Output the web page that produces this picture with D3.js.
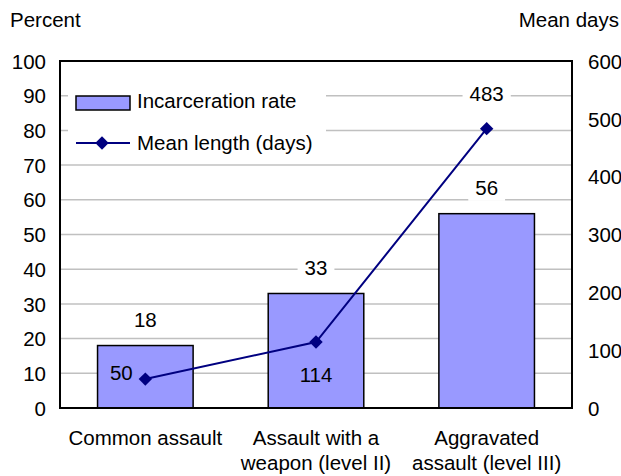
<!DOCTYPE html>
<html><head><meta charset="utf-8">
<script src="https://cdn.jsdelivr.net/npm/d3@7/dist/d3.min.js"></script>
<style>body{margin:0;background:#fff}svg{display:block;font-family:"Liberation Sans",Arial,sans-serif}</style>
</head><body>
<script>
const categories = [["Common assault"], ["Assault with a", "weapon (level II)"], ["Aggravated", "assault (level III)"]];
const incarcerationRate = [18, 33, 56];
const meanLength = [50, 114, 483];
const leftTicks = [0,10,20,30,40,50,60,70,80,90,100];
const rightTicks = [0,100,200,300,400,500,600];
const seriesNames = ["Incarceration rate", "Mean length (days)"];

const W = 621, H = 476;
const m = {l:60, r:49, t:61, b:68};
const svg = d3.select("body").append("svg").attr("width", W).attr("height", H);
const x = d3.scaleBand().domain(d3.range(categories.length)).range([m.l, W - m.r]).paddingInner(0.44).paddingOuter(0.22);
const yL = d3.scaleLinear().domain([0,100]).range([H - m.b, m.t]);
const yR = d3.scaleLinear().domain([0,600]).range([H - m.b, m.t]);
const fs = 20.5;
const ff = "Liberation Sans, Arial, sans-serif";

// gridlines
svg.append("g").selectAll("line").data(leftTicks.slice(1, -1)).join("line")
  .attr("x1", m.l).attr("x2", W - m.r).attr("y1", d => yL(d)).attr("y2", d => yL(d))
  .attr("stroke", "#c0c0c0").attr("stroke-width", 1.5);

// left axis
const axL = svg.append("g").attr("transform", `translate(${m.l},0)`)
  .call(d3.axisLeft(yL).tickValues(leftTicks).tickSize(0).tickPadding(14));
axL.select(".domain").remove();
axL.selectAll("text").attr("font-size", fs).attr("fill", "#000").attr("font-family", ff).attr("dy", "0.35em");

// right axis
const axR = svg.append("g").attr("transform", `translate(${W - m.r},0)`)
  .call(d3.axisRight(yR).tickValues(rightTicks).tickSize(0).tickPadding(16));
axR.select(".domain").remove();
axR.selectAll("text").attr("font-size", fs).attr("fill", "#000").attr("font-family", ff).attr("dy", "0.35em");

// bars
svg.append("g").selectAll("rect").data(incarcerationRate).join("rect")
  .attr("x", (d,i) => x(i)).attr("width", x.bandwidth())
  .attr("y", d => yL(d)).attr("height", d => yL(0) - yL(d))
  .attr("fill", "#9999ff").attr("stroke", "#000").attr("stroke-width", 1.5);

function addLabel(g, tx, ty, t, bg) {
  const grp = g.append("g");
  const bgRect = grp.append("rect").attr("fill", bg ? "#fff" : "none");
  const txt = grp.append("text").attr("x", tx).attr("y", ty).attr("dy", "0.35em")
    .attr("text-anchor", "middle").attr("font-size", fs).text(t);
  if (bg) {
    const b = txt.node().getBBox();
    bgRect.attr("x", b.x - 7).attr("y", b.y - 2).attr("width", b.width + 14).attr("height", b.height + 4);
  }
}

// bar labels
const bl = svg.append("g");
incarcerationRate.forEach((d, i) => addLabel(bl, x(i) + x.bandwidth()/2, yL(d) - 26, d, true));

// legend background
svg.append("rect").attr("x", 68).attr("y", 82).attr("width", 258).attr("height", 78).attr("fill", "#fff");

// line
const cx = i => x(i) + x.bandwidth()/2;
svg.append("path").datum(meanLength)
  .attr("d", d3.line().x((d,i) => cx(i)).y(d => yR(d)))
  .attr("fill", "none").attr("stroke", "#000080").attr("stroke-width", 2);
const diamond = d3.symbol().type(d3.symbolSquare).size(90);
svg.append("g").selectAll("path").data(meanLength).join("path")
  .attr("d", diamond).attr("transform", (d,i) => `translate(${cx(i)},${yR(d)}) rotate(45)`).attr("fill", "#000080");

// line labels
const lblOff = [[-24, -6], [0, 33], [0, -35]];
const ll = svg.append("g");
meanLength.forEach((d, i) => addLabel(ll, cx(i) + lblOff[i][0], yR(d) + lblOff[i][1], d, i === 2));

// frame
svg.append("rect").attr("x", m.l).attr("y", m.t).attr("width", W - m.r - m.l).attr("height", H - m.b - m.t)
  .attr("fill", "none").attr("stroke", "#000").attr("stroke-width", 2);

// category labels
const cat = svg.append("g");
categories.forEach((lines, i) => {
  lines.forEach((t, j) => {
    cat.append("text").attr("x", cx(i)).attr("y", 445 + j * 25).attr("text-anchor", "middle").attr("font-size", fs).text(t);
  });
});

// axis titles
svg.append("text").attr("x", 10).attr("y", 27).attr("font-size", fs).text("Percent");
svg.append("text").attr("x", 619).attr("y", 27).attr("text-anchor", "end").attr("font-size", fs).text("Mean days");

// legend
const lg = svg.append("g");
lg.append("rect").attr("x", 76).attr("y", 96).attr("width", 54).attr("height", 14)
  .attr("fill", "#9999ff").attr("stroke", "#000").attr("stroke-width", 1.5);
lg.append("text").attr("x", 137).attr("y", 101).attr("dy", "0.35em").attr("font-size", fs).text(seriesNames[0]);
lg.append("line").attr("x1", 76).attr("x2", 130).attr("y1", 143).attr("y2", 143).attr("stroke", "#000080").attr("stroke-width", 2);
lg.append("path").attr("d", diamond).attr("transform", "translate(102,143) rotate(45)").attr("fill", "#000080");
lg.append("text").attr("x", 137).attr("y", 143).attr("dy", "0.35em").attr("font-size", fs).text(seriesNames[1]);
</script>
</body></html>
